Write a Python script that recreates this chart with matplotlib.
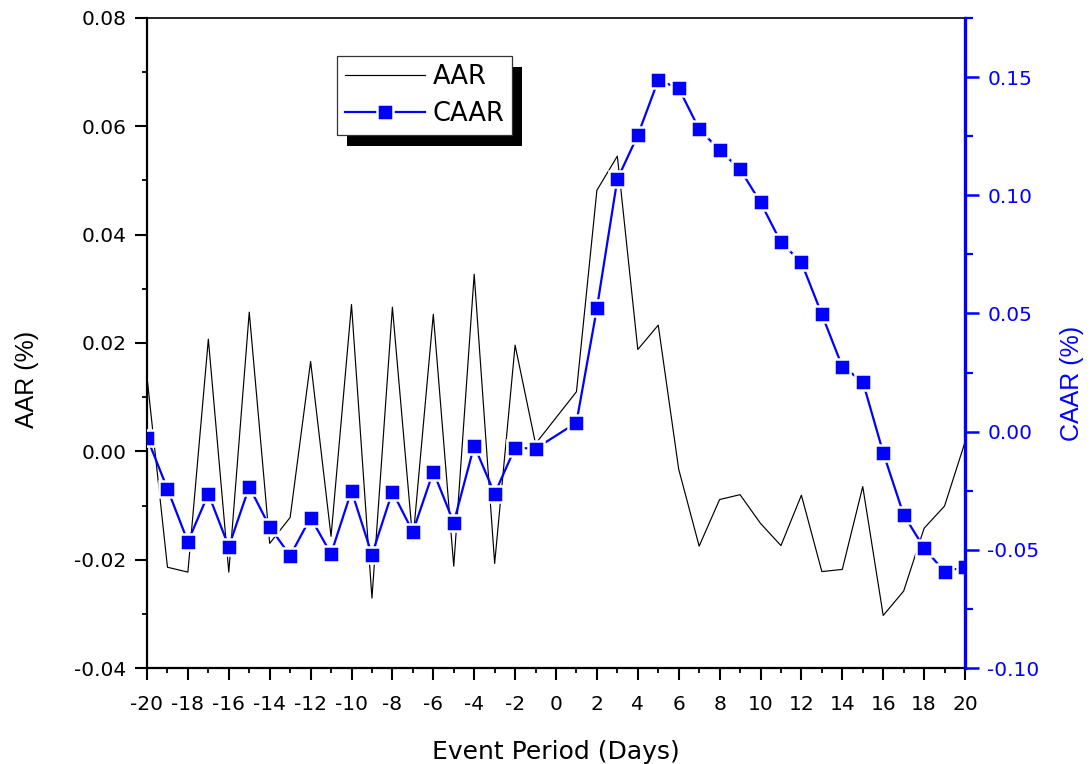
import matplotlib
matplotlib.use("Agg")
import matplotlib.pyplot as plt
from matplotlib import font_manager
from matplotlib.patches import Rectangle
from matplotlib.ticker import MultipleLocator, FormatStrFormatter
from matplotlib.transforms import IdentityTransform

# ---- data ----
days = [-20, -19, -18, -17, -16, -15, -14, -13, -12, -11, -10, -9, -8, -7, -6, -5, -4, -3, -2, -1,
        1, 2, 3, 4, 5, 6, 7, 8, 9, 10, 11, 12, 13, 14, 15, 16, 17, 18, 19, 20]
aar = [0.0137, -0.0214, -0.0223, 0.0207, -0.0223, 0.0257, -0.0170, -0.0122, 0.0166, -0.0157,
       0.0271, -0.0271, 0.0266, -0.0166, 0.0253, -0.0212, 0.0327, -0.0207, 0.0196, 0.0014,
       0.0110, 0.0482, 0.0545, 0.0188, 0.0233, -0.0033, -0.0175, -0.0089, -0.0080, -0.0133,
       -0.0174, -0.0081, -0.0222, -0.0218, -0.0065, -0.0303, -0.0258, -0.0142, -0.0101, 0.0017]
caar = [-0.0025, -0.0242, -0.0466, -0.0263, -0.0487, -0.0233, -0.0403, -0.0525, -0.0364, -0.0517,
        -0.0250, -0.0521, -0.0254, -0.0424, -0.0169, -0.0385, -0.0059, -0.0263, -0.0068, -0.0072,
        0.0038, 0.0522, 0.1068, 0.1254, 0.1487, 0.1453, 0.1280, 0.1191, 0.1110, 0.0970,
        0.0801, 0.0716, 0.0496, 0.0275, 0.0212, -0.0089, -0.0352, -0.0492, -0.0593, -0.0572]

plt.rcParams['axes.unicode_minus'] = False
plt.rcParams['font.family'] = ['DejaVu Sans']

available = {f.name for f in font_manager.fontManager.ttflist}
narrow = 'DejaVu Sans'
for cand in ['Liberation Sans Narrow', 'DejaVu Sans Condensed', 'Liberation Sans']:
    if cand in available:
        narrow = cand
        break
narrow_size = 20 if narrow != 'Liberation Sans' else 18

BLUE = '#0000FF'
W, H = 1092, 764
fig = plt.figure(figsize=(W / 100, H / 100), dpi=100)
ax = fig.add_axes([147 / W, 1 - 668 / H, 818 / W, 650 / H])
ax2 = ax.twinx()

l1, = ax.plot(days, aar, color='black', lw=0.85, label='AAR')
l2, = ax2.plot(days, caar, color=BLUE, lw=1.6, marker='s', markersize=11,
               markerfacecolor=BLUE, markeredgecolor='white', markeredgewidth=1.8,
               label='CAAR')

ax.set_xlim(-20, 20)
ax.set_ylim(-0.04, 0.08)
ax2.set_ylim(-0.10, 0.175)

ax.xaxis.set_major_locator(MultipleLocator(2))
ax.xaxis.set_minor_locator(MultipleLocator(1))
ax.yaxis.set_major_locator(MultipleLocator(0.02))
ax.yaxis.set_minor_locator(MultipleLocator(0.01))
ax.yaxis.set_major_formatter(FormatStrFormatter('%.2f'))
ax2.yaxis.set_major_locator(MultipleLocator(0.05))
ax2.yaxis.set_minor_locator(MultipleLocator(0.025))
ax2.yaxis.set_major_formatter(FormatStrFormatter('%.2f'))

# spines
ax.spines['left'].set_linewidth(1.6)
ax.spines['bottom'].set_linewidth(1.6)
ax.spines['top'].set_linewidth(1.2)
ax.spines['right'].set_visible(False)
for s in ['left', 'top', 'bottom']:
    ax2.spines[s].set_visible(False)
ax2.spines['right'].set_color(BLUE)
ax2.spines['right'].set_linewidth(2.4)

tick_font = 14.5
ax.tick_params(axis='x', which='major', direction='out', length=8.6, width=1.5,
               bottom=True, top=False, labelsize=tick_font, pad=11)
ax.tick_params(axis='x', which='minor', direction='out', length=3.8, width=1.3,
               bottom=True, top=False)
ax.tick_params(axis='y', which='major', direction='out', length=8.6, width=1.5,
               labelsize=tick_font, pad=6)
ax.tick_params(axis='y', which='minor', direction='out', length=3.8, width=1.3)
# top ticks (inward) via twin's x axis
ax2.tick_params(axis='x', which='major', direction='in', length=8.6, width=1.5,
                top=True, bottom=False, labeltop=False, labelbottom=False)
ax2.tick_params(axis='x', which='minor', direction='in', length=3.8, width=1.3,
                top=True, bottom=False)
ax2.tick_params(axis='y', which='major', direction='out', length=10, width=1.8,
                color=BLUE, labelcolor=BLUE, labelsize=tick_font, pad=6)
ax2.tick_params(axis='y', which='minor', direction='out', length=5.5, width=1.6,
                color=BLUE)

# labels
ax.set_xlabel('Event Period (Days)', fontsize=18)
ax.xaxis.set_label_coords(0.5, -0.14)
ax.xaxis.label.set_va('baseline')

ax.set_ylabel('AAR (%)', fontsize=narrow_size, family=narrow)
ax.yaxis.set_label_coords(-0.1467, 0.4446)
ax.yaxis.label.set_ha('center'); ax.yaxis.label.set_va('center')

ax2.set_ylabel('CAAR (%)', fontsize=narrow_size, family=narrow, color=BLUE, rotation=90)
ax2.yaxis.set_label_coords(1.1308, 0.4385)
ax2.yaxis.label.set_ha('center'); ax2.yaxis.label.set_va('center')

leg = ax2.legend(handles=[l1, l2], labels=['AAR', 'CAAR'], loc='upper left',
                 bbox_to_anchor=(0.232, 0.9415), borderaxespad=0, frameon=True,
                 fancybox=False, edgecolor='#333333', framealpha=1, numpoints=1,
                 prop={'size': 18.5}, handlelength=3.1, handletextpad=0.3,
                 borderpad=0.32, labelspacing=0.4)
leg.get_frame().set_linewidth(0.9)
leg.set_zorder(10)

fig.canvas.draw()
bb = leg.get_window_extent()
shadow = Rectangle((bb.x0 + 10, bb.y0 - 11), bb.width, bb.height, transform=IdentityTransform(),
                   facecolor='black', edgecolor='none', zorder=9.5, clip_on=False)
ax2.add_artist(shadow)

fig.savefig('out.png', dpi=100)
